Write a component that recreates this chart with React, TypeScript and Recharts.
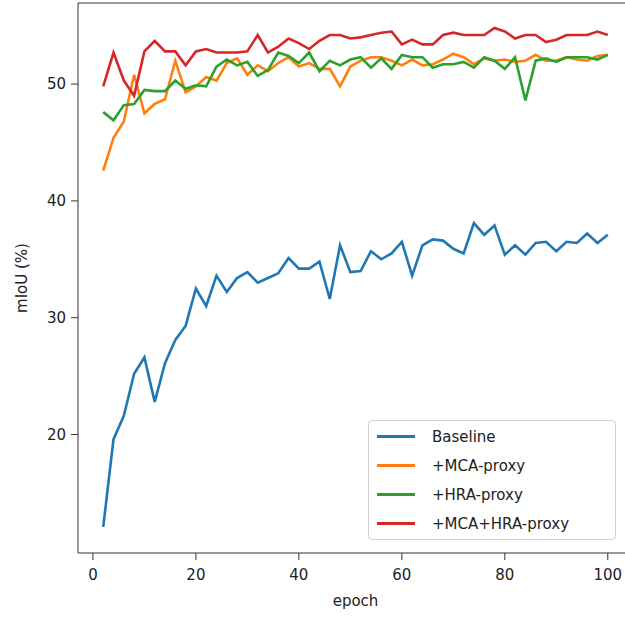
import React from 'react';
import { LineChart, Line, XAxis, YAxis, Legend, ReferenceLine } from 'recharts';

// epochs evaluated every 2 epochs
const epochs = [
  2, 4, 6, 8, 10, 12, 14, 16, 18, 20, 22, 24, 26, 28, 30, 32, 34, 36, 38, 40,
  42, 44, 46, 48, 50, 52, 54, 56, 58, 60, 62, 64, 66, 68, 70, 72, 74, 76, 78, 80,
  82, 84, 86, 88, 90, 92, 94, 96, 98, 100,
];

const baseline = [
  12.1, 19.6, 21.6, 25.2, 26.6, 22.8, 26.1, 28.1, 29.3, 32.5, 31.0, 33.6, 32.2, 33.4, 33.9, 33.0, 33.4, 33.8, 35.1, 34.2,
  34.2, 34.8, 31.6, 36.2, 33.9, 34.0, 35.7, 35.0, 35.5, 36.5, 33.6, 36.2, 36.7, 36.6, 35.9, 35.5, 38.1, 37.1, 37.9, 35.4,
  36.2, 35.4, 36.4, 36.5, 35.7, 36.5, 36.4, 37.2, 36.4, 37.1,
];

const mcaProxy = [
  42.6, 45.4, 46.8, 50.8, 47.5, 48.3, 48.7, 52.0, 49.3, 49.8, 50.6, 50.3, 51.8, 52.2, 50.8, 51.6, 51.1, 51.8, 52.3, 51.5,
  51.8, 51.3, 51.3, 49.8, 51.5, 52.0, 52.3, 52.3, 52.0, 51.6, 52.1, 51.6, 51.7, 52.1, 52.6, 52.3, 51.7, 52.2, 52.0, 52.1,
  51.9, 52.0, 52.5, 52.0, 52.0, 52.3, 52.1, 52.0, 52.4, 52.5,
];

const hraProxy = [
  47.6, 46.9, 48.2, 48.3, 49.5, 49.4, 49.4, 50.3, 49.6, 49.9, 49.8, 51.5, 52.1, 51.6, 51.9, 50.7, 51.2, 52.7, 52.4, 51.8,
  52.7, 51.1, 52.0, 51.6, 52.1, 52.3, 51.4, 52.2, 51.3, 52.5, 52.3, 52.3, 51.4, 51.7, 51.7, 51.9, 51.4, 52.3, 52.0, 51.3,
  52.3, 48.6, 52.0, 52.2, 51.9, 52.3, 52.3, 52.3, 52.1, 52.5,
];

const mcaHraProxy = [
  49.8, 52.7, 50.3, 49.0, 52.8, 53.7, 52.8, 52.8, 51.6, 52.8, 53.0, 52.7, 52.7, 52.7, 52.8, 54.2, 52.7, 53.2, 53.9, 53.5,
  53.0, 53.7, 54.2, 54.2, 53.9, 54.0, 54.2, 54.4, 54.5, 53.4, 53.8, 53.4, 53.4, 54.2, 54.4, 54.2, 54.2, 54.2, 54.8, 54.5,
  53.9, 54.2, 54.2, 53.6, 53.8, 54.2, 54.2, 54.2, 54.5, 54.2,
];

const xTicks = [0, 20, 40, 60, 80, 100];
const yTicks = [20, 30, 40, 50];

const seriesInfo = [
  { key: 'baseline', name: 'Baseline', color: '#1f77b4' },
  { key: 'mca', name: '+MCA-proxy', color: '#ff7f0e' },
  { key: 'hra', name: '+HRA-proxy', color: '#2ca02c' },
  { key: 'both', name: '+MCA+HRA-proxy', color: '#d62728' },
];

const chartData = epochs.map((epoch, i) => ({
  epoch,
  baseline: baseline[i],
  mca: mcaProxy[i],
  hra: hraProxy[i],
  both: mcaHraProxy[i],
}));

const FONT = '"DejaVu Sans", sans-serif';
const tickStyle = { fill: '#222', fontSize: 15, fontFamily: FONT };

const LegendBox = () => (
  <div
    style={{
      width: 248,
      height: 120,
      border: '1px solid #d0d0d0',
      borderRadius: 4,
      background: 'rgba(255,255,255,0.85)',
      boxSizing: 'border-box',
      paddingTop: 1,
      fontFamily: FONT,
      fontSize: 15,
      color: '#222',
    }}
  >
    {seriesInfo.map((s) => (
      <div key={s.key} style={{ display: 'flex', alignItems: 'center', height: 29 }}>
        <div style={{ width: 38, height: 3, background: s.color, marginLeft: 8, marginRight: 17 }} />
        <span>{s.name}</span>
      </div>
    ))}
  </div>
);

export default function App() {
  return (
    <div
      style={{
        position: 'absolute',
        left: 0,
        top: 0,
        width: 625,
        height: 617,
        overflow: 'hidden',
        background: '#fff',
      }}
    >
      <LineChart
        width={645}
        height={617}
        data={chartData}
        margin={{ top: 3, right: 12, bottom: 0, left: 18 }}
      >
        <XAxis
          dataKey="epoch"
          type="number"
          domain={[-2.9, 104.9]}
          ticks={xTicks}
          allowDataOverflow
          height={64}
          stroke="#333"
          tickSize={7}
          tickMargin={9}
          tick={tickStyle}
          label={{ value: 'epoch', position: 'center', dy: 16, style: { ...tickStyle } }}
        />
        <YAxis
          type="number"
          domain={[9.86, 56.94]}
          ticks={yTicks}
          allowDataOverflow
          width={60}
          stroke="#333"
          tickSize={7}
          tickMargin={5}
          tick={tickStyle}
          label={{ value: 'mIoU (%)', angle: -90, position: 'center', dx: -26, style: { ...tickStyle } }}
        />
        <ReferenceLine y={56.94} stroke="#333" />
        <ReferenceLine x={104.9} stroke="#333" />
        {seriesInfo.map((s) => (
          <Line
            key={s.key}
            type="linear"
            dataKey={s.key}
            name={s.name}
            stroke={s.color}
            strokeWidth={2.6}
            dot={false}
            activeDot={false}
            isAnimationActive={false}
          />
        ))}
        <Legend
          layout="vertical"
          align="center"
          verticalAlign="middle"
          content={<LegendBox />}
          wrapperStyle={{ left: 368, top: 420, width: 248, height: 120 }}
        />
      </LineChart>
    </div>
  );
}
